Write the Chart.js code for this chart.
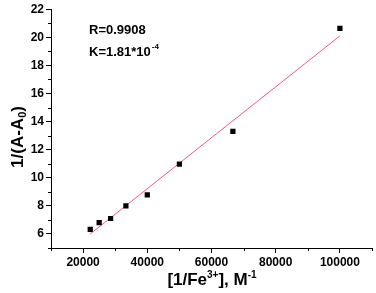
<!DOCTYPE html>
<html>
<head>
<meta charset="utf-8">
<script src="https://cdn.jsdelivr.net/npm/chart.js@4.4.0/dist/chart.umd.min.js"></script>
<style>
  html, body { margin: 0; padding: 0; background: #fff; }
  #wrap { width: 376px; height: 293px; }
</style>
</head>
<body>
<div id="wrap"><canvas id="myChart" width="376" height="293"></canvas></div>
<script>
// data
let xVals = [22222, 25000, 28571, 33333, 40000, 50000, 66667, 100000];
let yVals = [6.33, 6.8, 7.1, 8.0, 8.78, 10.97, 13.3, 20.64];
let fitX = [22222, 100000];
let fitY = [6.0, 20.1];
let xTicks = [20000, 40000, 60000, 80000, 100000];
let yTicks = [6, 8, 10, 12, 14, 16, 18, 20, 22];
let xMinor = [10000, 30000, 50000, 70000, 90000, 110000];
let yMinor = [5, 7, 9, 11, 13, 15, 17, 19, 21];

let font = '"Liberation Sans", Arial, sans-serif';

let points = xVals.map((x, i) => ({ x: x, y: yVals[i] }));
let fit = fitX.map((x, i) => ({ x: x, y: fitY[i] }));

// minor ticks, axis titles and R/K text
let extras = {
  id: 'extras',
  afterDraw(chart) {
    let c = chart.ctx;
    let xs = chart.scales.x, ys = chart.scales.y;
    let a = chart.chartArea;
    c.save();
    c.strokeStyle = '#000';
    c.lineWidth = 1;
    c.beginPath();
    xMinor.forEach(v => {
      let px = Math.round(xs.getPixelForValue(v)) + 0.5;
      c.moveTo(px, a.bottom);
      c.lineTo(px, a.bottom + 3);
    });
    yMinor.forEach(v => {
      let py = Math.round(ys.getPixelForValue(v)) + 0.5;
      c.moveTo(a.left, py);
      c.lineTo(a.left - 3, py);
    });
    c.stroke();

    c.fillStyle = '#000';
    c.textBaseline = 'alphabetic';

    // R and K
    c.font = 'bold 13px ' + font;
    c.textAlign = 'left';
    c.fillText('R=0.9908', 89, 34);
    c.fillText('K=1.81*10', 89, 56);
    let w = c.measureText('K=1.81*10').width;
    c.font = 'bold 8px ' + font;
    c.fillText('-4', 89 + w + 1, 49);

    // x title
    let parts = [['[1/Fe', 17, 0], ['3+', 10, -7], ['], M', 17, 0], ['-1', 10, -7]];
    let total = 0;
    parts.forEach(p => { c.font = 'bold ' + p[1] + 'px ' + font; total += c.measureText(p[0]).width; });
    let x0 = 212 - total / 2;
    parts.forEach(p => {
      c.font = 'bold ' + p[1] + 'px ' + font;
      c.fillText(p[0], x0, 285 + p[2]);
      x0 += c.measureText(p[0]).width;
    });

    // y title
    c.translate(23, 137);
    c.rotate(-Math.PI / 2);
    let yparts = [['1/(A-A', 17, 0], ['0', 11, 3], [')', 17, 0]];
    total = 0;
    yparts.forEach(p => { c.font = 'bold ' + p[1] + 'px ' + font; total += c.measureText(p[0]).width; });
    x0 = -total / 2;
    yparts.forEach(p => {
      c.font = 'bold ' + p[1] + 'px ' + font;
      c.fillText(p[0], x0, p[2]);
      x0 += c.measureText(p[0]).width;
    });
    c.restore();
  }
};

let ctx = document.getElementById('myChart').getContext('2d');
let myChart = new Chart(ctx, {
  type: 'scatter',
  data: {
    datasets: [
      {
        data: points,
        pointStyle: 'rect',
        pointRadius: 3.7,
        backgroundColor: '#000',
        borderColor: '#000',
        borderWidth: 0
      },
      {
        type: 'line',
        data: fit,
        borderColor: '#f05a86',
        borderWidth: 1,
        pointRadius: 0,
        fill: false
      }
    ]
  },
  options: {
    responsive: false,
    animation: false,
    layout: { padding: { top: 7, right: 1, left: 0, bottom: 0 } },
    plugins: {
      legend: { display: false },
      tooltip: { enabled: false }
    },
    scales: {
      x: {
        type: 'linear',
        min: 10000,
        max: 110000,
        afterBuildTicks: (s) => { s.ticks = xTicks.map(v => ({ value: v })); },
        afterFit: (s) => { s.height = 45; },
        border: { display: true, color: '#000', width: 1 },
        grid: { drawOnChartArea: false, tickLength: 5, color: '#000' },
        ticks: {
          color: '#000',
          padding: 2,
          maxRotation: 0,
          callback: (v) => String(v),
          font: { family: font, size: 12, weight: 'bold' }
        }
      },
      y: {
        min: 5,
        max: 22,
        afterBuildTicks: (s) => { s.ticks = yTicks.map(v => ({ value: v })); },
        afterFit: (s) => { s.width = 51; },
        border: { display: true, color: '#000', width: 1 },
        grid: { drawOnChartArea: false, tickLength: 5, color: '#000' },
        ticks: {
          color: '#000',
          padding: 2,
          callback: (v) => String(v),
          font: { family: font, size: 12, weight: 'bold' }
        }
      }
    }
  },
  plugins: [extras]
});
</script>
</body>
</html>
